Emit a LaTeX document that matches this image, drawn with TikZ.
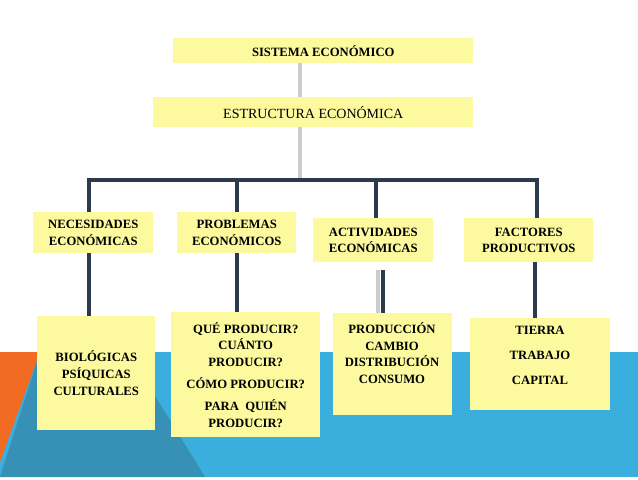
\documentclass[tikz,border=0pt]{standalone}
\usepackage{fontspec}
\setmainfont{Liberation Serif}
\begin{document}
\begin{tikzpicture}[x=0.75pt,y=-0.75pt,
  box/.style={fill=yel,draw=none,inner sep=0pt,font=\bfseries\fontsize{9.5}{12.5}\selectfont,align=center},
  bar/.style={draw=navy,line width=3pt},
  gbar/.style={draw=black!20,line width=3pt}]
\definecolor{yel}{HTML}{FCF99E}
\definecolor{navy}{HTML}{2C3A4C}
\definecolor{sky}{HTML}{3AAEDC}
\definecolor{dteal}{HTML}{3790B5}
\definecolor{orng}{HTML}{F26B22}
\useasboundingbox (0,0) rectangle (638,479);
\fill[white] (0,0) rectangle (638,479);
\fill[sky] (0,352) rectangle (638,477);
\fill[dteal] (40,352) -- (128,352) -- (205,477) -- (0,477) -- cycle;
\fill[orng] (0,352) -- (40,352) -- (0,462) -- cycle;
% top
\draw[gbar] (300,63) -- (300,178);
\node[box,minimum width=300pt*0.75,minimum height=25pt*0.75,anchor=north west,font=\bfseries\fontsize{9.5}{12}\selectfont] (se) at (173,38) {SISTEMA ECONÓMICO};
\node[box,minimum width=320pt*0.75,minimum height=30pt*0.75,anchor=north west,font=\fontsize{10.5}{12}\selectfont] (ee) at (153,97) {ESTRUCTURA ECONÓMICA};
\coordinate (bl) at (89,180); \coordinate (br) at (537,180);
\draw[bar] (89,214) -- (89,180) -- (537,180) -- (537,220);
\coordinate (t2) at (237,180); \coordinate (t3) at (376,180);
\draw[bar] (t2) -- (237,214);
\draw[bar] (t3) -- (376,220);
% connectors lower
\draw[bar] (89,250) -- (89,318);
\draw[bar] (237,250) -- (237,314);
\draw[gbar] (378,270) -- (378,316);
\draw[bar] (383,270) -- (383,315);
\draw[bar] (535,260) -- (535,320);
% level 2
\node[box,minimum width=120pt*0.75,minimum height=41pt*0.75,anchor=north west] (n1) at (33,212) {NECESIDADES\\ECONÓMICAS};
\node[box,minimum width=119pt*0.75,minimum height=41pt*0.75,anchor=north west] (n2) at (177,212) {PROBLEMAS\\ECONÓMICOS};
\node[box,minimum width=120pt*0.75,minimum height=44pt*0.75,anchor=north west] (n3) at (313,218) {ACTIVIDADES\\ECONÓMICAS};
\node[box,minimum width=129pt*0.75,minimum height=44pt*0.75,anchor=north west] (n4) at (464,218) {FACTORES\\PRODUCTIVOS};
% level 3
\node[box,minimum width=118pt*0.75,minimum height=114pt*0.75,anchor=north west] (m1) at (37,316) {BIOLÓGICAS\\PSÍQUICAS\\CULTURALES};
\node[box,minimum width=149pt*0.75,minimum height=125pt*0.75,anchor=north west,font=\bfseries\fontsize{9.5}{12.5}\selectfont] (m2) at (171,312) {QUÉ PRODUCIR?\\CUÁNTO\\PRODUCIR?\\[4pt]CÓMO PRODUCIR?\\[4pt]PARA~~QUIÉN\\PRODUCIR?};
\node[box,minimum width=119pt*0.75,minimum height=102pt*0.75,anchor=north west] (m3) at (333,313) {};
\node[anchor=north,align=center,font=\bfseries\fontsize{9.5}{12.5}\selectfont] at (392,318) {PRODUCCIÓN\\CAMBIO\\DISTRIBUCIÓN\\CONSUMO};
\node[box,minimum width=140pt*0.75,minimum height=92pt*0.75,anchor=north west] (m4) at (470,318) {};
\node[anchor=north,align=center,font=\bfseries\fontsize{9.5}{19}\selectfont] at (540,321) {TIERRA\\TRABAJO\\CAPITAL};
\end{tikzpicture}
\end{document}
